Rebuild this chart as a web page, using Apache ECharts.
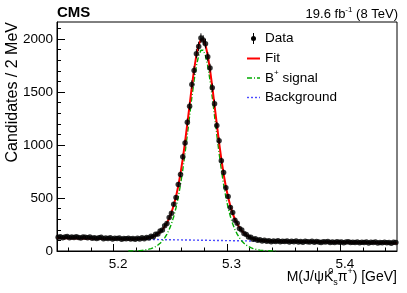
<!DOCTYPE html>
<html><head><meta charset="utf-8">
<script src="https://cdn.jsdelivr.net/npm/echarts@6/dist/echarts.min.js"></script>
<style>html,body{margin:0;padding:0;background:#fff}#c{width:407px;height:293px}</style>
</head><body><div id="c"></div>
<script>
// ---- data (2 MeV bins from 5.150 GeV) ----
const binStart = 5.150, binWidth = 0.002;
const dataCounts = [
 129,134,126,131,137,125,132,128,135,127,123,133,130,126,131,
 121,126,118,124,129,115,122,119,125,113,120,117,123,111,119,116,121,114,
 118,110,121,113,124,115,127,122,138,134,158,161,188,197,239,259,317,
 355,442,505,628,722,889,1018,1215,1366,1570,1702,1861,1930,2008,
 1990,1955,1832,1725,1540,1390,1183,1040,852,741,596,515,411,362,291,262,213,
 197,165,156,131,130,112,116,101,105,94,101,91,97,88,95,
 90,96,87,93,89,95,84,91,88,94,86,90,83,92,87,
 85,91,82,89,86,80,88,84,90,81,86,79,87,83,85,78,84,88,80,82,
 79,85,77,83,80,86,76,82,79,84,75,81,78,83,77,80,74,82,79
];
// fit curve sampled at bin centres, bins 33..95, plus edge anchors
const fitStartBin = 33;
const fitVals = [112,113,114,114,116,118,121,126,132,139,150,164,180,202,231,266,308,363,431,513,613,734,872,1030,1201,1377,1554,1714,1848,1944,1996,1995,1943,1847,1711,1551,1374,1196,1025,867,728,606,506,423,354,299,256,220,191,169,151,137,126,117,111,106,101,99,97,95,94,93,92];
const fitEdgeMass = [5.150, 5.450];
const fitEdgeVals = [122, 74];
// signal component, bins 31..96
const sigStartBin = 31;
const sigVals = [0.5,1,1,2,3,4,6,8,12,17,23,31,42,56,73,95,124,159,202,257,325,408,508,629,768,926,1097,1274,1451,1611,1746,1842,1894,1894,1842,1746,1611,1451,1274,1097,926,768,629,508,408,325,257,202,159,124,95,73,56,42,31,23,17,12,8,6,4,3,2,1,1,0.5];
// background component
const bkgMass = [5.150, 5.450];
const bkgVals = [122, 74];
// axis ticks
const xMajor = [5.2, 5.3, 5.4];
const xMinor = [5.16,5.18,5.22,5.24,5.26,5.28,5.32,5.34,5.36,5.38,5.42,5.44];
const yMajor = [0, 500, 1000, 1500, 2000];
const yMinor = [100,200,300,400,600,700,800,900,1100,1200,1300,1400,1600,1700,1800,1900,2100];

// ---- build series tables ----
const centre = i => +(binStart + binWidth * (i + 0.5)).toFixed(4);
const dataPts = dataCounts.map((v, i) => [centre(i), v, Math.sqrt(v)]);
const fitPts = [[fitEdgeMass[0], fitEdgeVals[0]]]
  .concat(fitVals.map((v, k) => [centre(fitStartBin + k), v]))
  .concat([[fitEdgeMass[1], fitEdgeVals[1]]]);
const sigPts = sigVals.map((v, k) => [centre(sigStartBin + k), v]);
const bkgPts = bkgMass.map((m, k) => [m, bkgVals[k]]);

const FONT = 'Liberation Sans, Arial, Helvetica, sans-serif';
const chart = echarts.init(document.getElementById('c'), null, {renderer: 'canvas'});
const xBase = {type: 'value', min: 5.15, max: 5.45, splitLine: {show: false}};
const yBase = {type: 'value', min: 0, max: 2160, splitLine: {show: false}};
chart.setOption({
  animation: false,
  backgroundColor: '#fff',
  grid: {left: 57, right: 10, top: 22, bottom: 42, show: true, borderColor: '#000', borderWidth: 1},
  xAxis: [
    Object.assign({}, xBase, {
      axisLine: {lineStyle: {color: '#000', width: 1}},
      axisTick: {inside: true, length: 7, customValues: xMajor, lineStyle: {color: '#000'}},
      axisLabel: {customValues: xMajor, formatter: v => v.toFixed(1), color: '#000', fontSize: 13.5, fontFamily: FONT, margin: 6, padding: [0, 0, 0, 9]}
    }),
    Object.assign({}, xBase, {
      position: 'bottom',
      axisLine: {show: false},
      axisTick: {inside: true, length: 3.5, customValues: xMinor, lineStyle: {color: '#000'}},
      axisLabel: {show: false}
    })
  ],
  yAxis: [
    Object.assign({}, yBase, {
      axisLine: {show: true, lineStyle: {color: '#000', width: 1}},
      axisTick: {show: true, inside: true, length: 8, customValues: yMajor, lineStyle: {color: '#000'}},
      axisLabel: {customValues: yMajor, formatter: v => String(Math.round(v)), color: '#000', fontSize: 13.5, fontFamily: FONT, margin: 4}
    }),
    Object.assign({}, yBase, {
      position: 'left',
      axisLine: {show: false},
      axisTick: {show: true, inside: true, length: 4, customValues: yMinor, lineStyle: {color: '#000'}},
      axisLabel: {show: false}
    })
  ],
  series: [
    {type: 'line', name: 'Background', data: bkgPts, showSymbol: false, z: 2,
     lineStyle: {color: '#4a4aff', width: 1.4, type: [2, 2]}},
    {type: 'line', name: 'B+ signal', data: sigPts, showSymbol: false, z: 3,
     lineStyle: {color: '#00aa00', width: 1.4, type: [5, 2, 1, 2]}},
    {type: 'line', name: 'Fit', data: fitPts, showSymbol: false, z: 4,
     lineStyle: {color: '#ff0000', width: 2}},
    {type: 'custom', name: 'err', data: dataPts, z: 5,
     renderItem: (params, api) => {
       const x = api.value(0), y = api.value(1), e = api.value(2);
       const p1 = api.coord([x, y - e]), p2 = api.coord([x, y + e]);
       return {type: 'line', shape: {x1: p1[0], y1: p1[1], x2: p2[0], y2: p2[1]},
               style: {stroke: '#000', lineWidth: 1}};
     }},
    {type: 'scatter', name: 'Data', data: dataPts.map(p => [p[0], p[1]]), symbol: 'circle', symbolSize: 5.5, z: 6,
     itemStyle: {color: '#000'}}
  ],
  graphic: [
    {type: 'text', x: 57, y: 13, style: {text: 'CMS', font: 'bold 15px ' + FONT, fill: '#000', align: 'left', verticalAlign: 'middle'}},
    {type: 'text', x: 398, y: 14, style: {text: '19.6 fb{sup|-1} (8 TeV)', fontSize: 13, fontFamily: FONT, fill: '#000', align: 'right', verticalAlign: 'middle', lineHeight: 16,
      rich: {sup: {fontSize: 8, fontFamily: FONT, verticalAlign: 'top', lineHeight: 16}}}},
    {type: 'text', x: 13, y: 22, rotation: Math.PI / 2, style: {text: 'Candidates / 2 MeV', fontSize: 16, fontFamily: FONT, fill: '#000', align: 'right', verticalAlign: 'middle'}},
    {type: 'text', x: 397, y: 277, style: {text: 'M(J/ψK{sup0|0}{sub|s}π{sup|+}) [GeV]', fontSize: 14, fontFamily: FONT, fill: '#000', align: 'right', verticalAlign: 'middle', lineHeight: 20,
      rich: {sup0: {fontSize: 9, fontFamily: FONT, verticalAlign: 'top', lineHeight: 20, width: 0},
             sub: {fontSize: 9, fontFamily: FONT, verticalAlign: 'bottom', lineHeight: 20},
             sup: {fontSize: 9, fontFamily: FONT, verticalAlign: 'top', lineHeight: 20}}}},
    // legend
    {type: 'line', shape: {x1: 253.5, y1: 33, x2: 253.5, y2: 44}, style: {stroke: '#000', lineWidth: 1}},
    {type: 'circle', shape: {cx: 253.5, cy: 38.5, r: 2.5}, style: {fill: '#000'}},
    {type: 'text', x: 265, y: 38.5, style: {text: 'Data', fontSize: 13.5, fontFamily: FONT, fill: '#000', verticalAlign: 'middle'}},
    {type: 'line', shape: {x1: 247, y1: 58.5, x2: 260, y2: 58.5}, style: {stroke: '#ff0000', lineWidth: 2}},
    {type: 'text', x: 265, y: 58.5, style: {text: 'Fit', fontSize: 13.5, fontFamily: FONT, fill: '#000', verticalAlign: 'middle'}},
    {type: 'line', shape: {x1: 247, y1: 78, x2: 260, y2: 78}, style: {stroke: '#00aa00', lineWidth: 1.4, lineDash: [5, 2, 1, 2]}},
    {type: 'text', x: 265, y: 78, style: {text: 'B{sup|+} signal', fontSize: 13.5, fontFamily: FONT, fill: '#000', verticalAlign: 'middle', lineHeight: 18,
      rich: {sup: {fontSize: 8, fontFamily: FONT, verticalAlign: 'top', lineHeight: 18}}}},
    {type: 'line', shape: {x1: 247, y1: 97.5, x2: 260, y2: 97.5}, style: {stroke: '#4a4aff', lineWidth: 1.4, lineDash: [2, 2]}},
    {type: 'text', x: 265, y: 97.5, style: {text: 'Background', fontSize: 13.5, fontFamily: FONT, fill: '#000', verticalAlign: 'middle'}}
  ]
});
</script></body></html>
